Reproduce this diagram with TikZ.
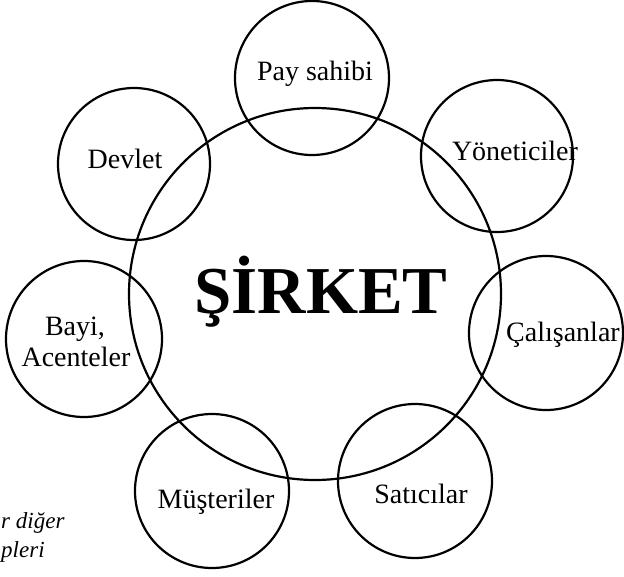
\documentclass[tikz,border=0pt]{standalone}
\usepackage{fontspec}
\setmainfont{Liberation Serif}
\begin{document}
\begin{tikzpicture}[x=1pt,y=-1pt,
  ring/.style={circle,draw,line width=2.2pt,inner sep=0pt,outer sep=0pt,minimum size=#1},
  lbl/.style={anchor=base,inner sep=0pt,font=\fontsize{28}{32}\selectfont},
  side/.style={inner sep=0pt,anchor=base west,font=\fontsize{23}{28}\selectfont\itshape}]
\clip (0,0) rectangle (624,576);
\node[ring=372pt] (sirket) at (315,294) {};
\node[ring=154pt] (pay) at (312,78) {};
\node[ring=152pt] (devlet) at (134,164) {};
\node[ring=152pt] (yon) at (497,156) {};
\node[ring=154pt] (cal) at (546,333) {};
\node[ring=156pt] (bayi) at (84,339) {};
\node[ring=154pt] (mus) at (212,491) {};
\node[ring=154pt] (sat) at (415,481) {};
\node[anchor=base,inner sep=0pt,font=\fontsize{67}{70}\selectfont\bfseries] (tsirket) at (321,313) {ŞİRKET};
\node[lbl] (tpay) at (315,80) {Pay sahibi};
\node[lbl] (tdevlet) at (125,168) {Devlet};
\node[lbl] (tyon) at (515,160) {Yöneticiler};
\node[lbl] (tcal) at (563,341) {Çalışanlar};
\node[lbl] (tbayi) at (75,335) {Bayi,};
\node[lbl] (tacen) at (76,366) {Acenteler};
\node[lbl] (tmus) at (216,508) {Müşteriler};
\node[lbl] (tsat) at (421,503) {Satıcılar};
\node[side] (t1) at (1,528) {r diğer};
\node[side] (t2) at (1,557) {pleri};
\end{tikzpicture}
\end{document}
